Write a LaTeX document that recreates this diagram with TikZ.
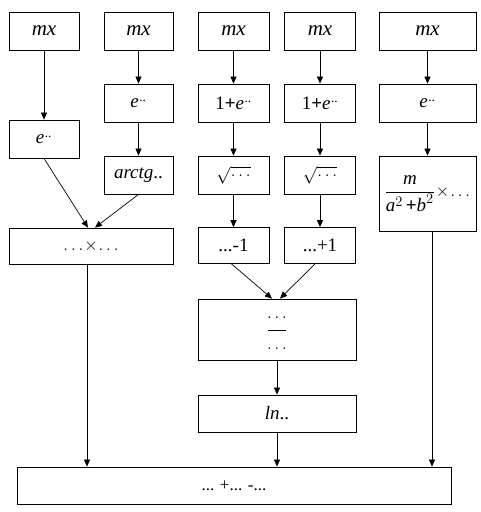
\documentclass[tikz,border=0pt]{standalone}
\usepackage{fontspec}
\setmainfont{Liberation Serif}
\usepackage{amsmath}
\usetikzlibrary{arrows.meta}

\newcommand{\edots}{\textit{e}\textsuperscript{\kern0.5pt..}}

\begin{document}
\begin{tikzpicture}[x=1pt,y=-1pt,
    >={Triangle[length=7pt,width=6pt]},
    box/.style={draw,line width=0.8pt,inner sep=0pt,minimum height=38pt,
        font=\fontsize{19}{22}\selectfont},
    every path/.style={line width=0.7pt}]
    \useasboundingbox (0,0) rectangle (480,512);
    % top row
    \node[box,minimum width=70pt] (m1) at (44,31) {\fontsize{21}{24}\selectfont\textit{mx}};
    \node[box,minimum width=69pt] (m2) at (138.5,31) {\fontsize{21}{24}\selectfont\textit{mx}};
    \node[box,minimum width=71pt] (m3) at (233.5,31) {\fontsize{21}{24}\selectfont\textit{mx}};
    \node[box,minimum width=71pt] (m4) at (320,31) {\fontsize{21}{24}\selectfont\textit{mx}};
    \node[box,minimum width=97pt] (m5) at (427.5,31) {\fontsize{21}{24}\selectfont\textit{mx}};
    % second row
    \node[box,minimum width=70pt] (e1) at (44,139) {\edots};
    \node[box,minimum width=69pt] (e2) at (138.5,103) {\edots};
    \node[box,minimum width=71pt] (p3) at (233.5,103) {1\textbf{+}\edots};
    \node[box,minimum width=71pt] (p4) at (320,103) {1\textbf{+}\edots};
    \node[box,minimum width=97pt] (e5) at (427.5,103) {\edots};
    % third row
    \node[box,minimum width=69pt] (at2) at (138.5,175) {\textit{arctg}..};
    \node[box,minimum width=71pt] (s3) at (233.5,175) {$\sqrt{\ldots}$};
    \node[box,minimum width=71pt] (s4) at (320,175) {$\sqrt{\ldots}$};
    \node[box,minimum width=97pt,minimum height=75pt] (f5) at (427.5,193.5)
        {$\dfrac{\textit{m}}{\textit{a}^2\,\textbf{+}\textit{b}^2}\!\times\!\ldots$};
    % fourth row
    \node[box,minimum width=164pt,minimum height=36pt] (mul) at (91,246) {$\ldots\!\times\!\ldots$};
    \node[box,minimum width=71pt,minimum height=36pt] (mi3) at (233.5,245.5) {...-1};
    \node[box,minimum width=71pt,minimum height=36pt] (pl4) at (320,245.5) {...+1};
    % lower part
    \node[box,minimum width=158pt,minimum height=61pt] (dv) at (277,329.5)
        {\begin{tabular}{@{}c@{}}$\ldots$\\[-10pt]\rule{18pt}{0.8pt}\\[-3pt]$\ldots$\end{tabular}};
    \node[box,minimum width=158pt,minimum height=37pt] (ln) at (277,413.5) {\textit{ln}..};
    \node[box,minimum width=434pt,minimum height=37pt] (sum) at (234,485.5) {\fontsize{17}{20}\selectfont... +... -...};
    % connectors
    \draw[->] (m1) -- (e1);
    \draw[->] (m2) -- (e2);
    \draw[->] (e2) -- (at2);
    \draw[->] (m3) -- (p3);
    \draw[->] (p3) -- (s3);
    \draw[->] (s3) -- (mi3);
    \draw[->] (m4) -- (p4);
    \draw[->] (p4) -- (s4);
    \draw[->] (s4) -- (pl4);
    \draw[->] (m5) -- (e5);
    \draw[->] (e5) -- (f5);
    \draw[->] (e1.south) -- ([xshift=-3pt]mul.north);
    \draw[->] (at2.south) -- ([xshift=4pt]mul.north);
    \draw[->] ([xshift=-2pt]mi3.south) -- ([xshift=-5pt]dv.north);
    \draw[->] ([xshift=-5pt]pl4.south) -- ([xshift=3pt]dv.north);
    \draw[->] (dv) -- (ln);
    \draw[->] ([xshift=-4pt]mul.south) -- ([xshift=-4pt]mul.south |- sum.north);
    \draw[->] (ln) -- (ln |- sum.north);
    \draw[->] ([xshift=4.5pt]f5.south) -- ([xshift=4.5pt]f5.south |- sum.north);
\end{tikzpicture}
\end{document}
